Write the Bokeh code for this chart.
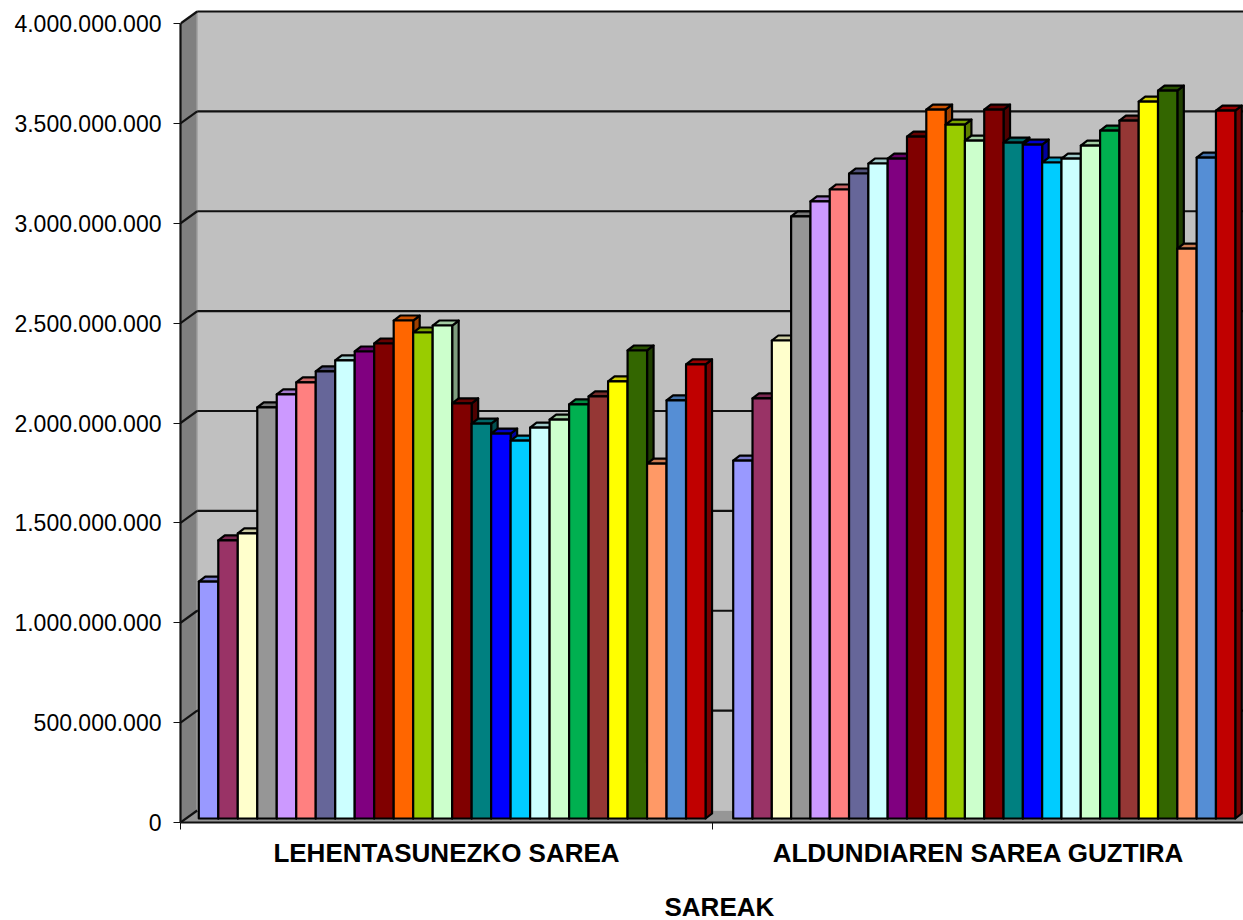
from bokeh.plotting import figure
from bokeh.models import Range1d, LinearAxis, FixedTicker, Title, ColumnDataSource
from bokeh.embed import file_html
from bokeh.resources import INLINE

categories = ["LEHENTASUNEZKO SAREA", "ALDUNDIAREN SAREA GUZTIRA"]
axis_title = "SAREAK"
y_ticks = [0, 500000000, 1000000000, 1500000000, 2000000000, 2500000000, 3000000000, 3500000000, 4000000000]
y_tick_labels = ["0", "500.000.000", "1.000.000.000", "1.500.000.000", "2.000.000.000",
                 "2.500.000.000", "3.000.000.000", "3.500.000.000", "4.000.000.000"]
priority_network = [1186, 1392, 1427, 2058, 2123, 2183, 2238, 2293, 2338, 2378, 2493, 2433, 2468,
                    2078, 1977, 1927, 1892, 1957, 1997, 2073, 2113, 2188, 2343, 1777, 2093, 2273]
total_network = [1792, 2103, 2393, 3014, 3089, 3149, 3229, 3279, 3304, 3414, 3549, 3474, 3394,
                 3549, 3384, 3374, 3284, 3304, 3369, 3444, 3494, 3589, 3644, 2853, 3309, 3544]
series_colors = ["#9999FF", "#993366", "#FFFFCC", "#969696", "#CC99FF", "#FF8080", "#666699", "#CCFFFF",
                 "#800080", "#800000", "#FF6600", "#99CC00", "#CCFFCC", "#800000", "#008080", "#0000FF",
                 "#00CCFF", "#CCFFFF", "#CCFFCC", "#00B050", "#953735", "#FFFF00", "#336600", "#FF9966",
                 "#558ED5", "#C00000"]

# layout: one x unit = one pixel, y in axis value units
VPP = 4e9 / 799
FRAME_W, FRAME_H = 1063, 822
WALL_DX, WALL_DY = 16.7, 12 * VPP
BAR_DX, BAR_DY = 6.5, 5 * VPP
BAR_BASE = 4 * VPP
GROUP_W = 532
GROUPS = [(priority_network, 18.3, 19.49), (total_network, 552.7, 19.31)]
Y_END = FRAME_H * VPP
WALL_TOP = 4e9


def shade(color, k):
    r, g, b = [int(color[i:i + 2], 16) for i in (1, 3, 5)]
    return "#%02X%02X%02X" % (int(r * k), int(g * k), int(b * k))


p = figure(frame_width=FRAME_W, frame_height=FRAME_H, output_backend="svg", toolbar_location=None,
           x_range=Range1d(0, FRAME_W), y_range=Range1d(0, Y_END),
           x_axis_type=None, y_axis_type=None,
           min_border_left=180, min_border_right=0, min_border_top=0, min_border_bottom=98,
           background_fill_color="white", border_fill_color="white", outline_line_color=None)
p.grid.visible = False

# walls and floor
p.patch([WALL_DX, FRAME_W, FRAME_W, WALL_DX], [WALL_DY, WALL_DY, WALL_TOP + WALL_DY, WALL_TOP + WALL_DY],
        fill_color="#C0C0C0", line_color=None)
p.patch([0, WALL_DX, WALL_DX, 0], [0, WALL_DY, WALL_TOP + WALL_DY, WALL_TOP],
        fill_color="#808080", line_color=None)
p.patch([0, WALL_DX, FRAME_W, FRAME_W], [0, WALL_DY, WALL_DY, 0],
        fill_color="#969696", line_color=None)
p.line([WALL_DX, WALL_DX], [WALL_DY, WALL_TOP + WALL_DY], line_color="#A6A6A6", line_width=1.5)

# gridlines on the back wall and their links across the side wall
gx, gy = [], []
for t in y_ticks:
    if t > 0:
        gx.append([WALL_DX, FRAME_W])
        gy.append([t + WALL_DY, t + WALL_DY])
    gx.append([0, WALL_DX])
    gy.append([t, t + WALL_DY])
p.multi_line(gx, gy, line_color="#111111", line_width=2.2)

# 3D bars, painted left to right
xs, ys, fills = [], [], []
for values, start, bw in GROUPS:
    for i, v in enumerate(values):
        c = series_colors[i]
        x0, x1 = start + i * bw, start + (i + 1) * bw
        top = v * 1e6 + BAR_BASE
        xs.append([x1, x1 + BAR_DX, x1 + BAR_DX, x1])
        ys.append([BAR_BASE, BAR_BASE + BAR_DY, top + BAR_DY, top])
        fills.append(shade(c, 0.62))
        xs.append([x0, x0 + BAR_DX, x1 + BAR_DX, x1])
        ys.append([top, top + BAR_DY, top + BAR_DY, top])
        fills.append(shade(c, 0.8))
        xs.append([x0, x1, x1, x0])
        ys.append([BAR_BASE, BAR_BASE, top, top])
        fills.append(c)
p.patches("xs", "ys", fill_color="fills", line_color="#000000", line_width=2.2, line_join="round",
          source=ColumnDataSource(dict(xs=xs, ys=ys, fills=fills)))

# axes
yaxis = LinearAxis(ticker=FixedTicker(ticks=y_ticks),
                   major_label_overrides=dict(zip(y_ticks, y_tick_labels)))
yaxis.bounds = (0, 4e9)
yaxis.axis_line_color = "#111111"
yaxis.axis_line_width = 2.2
yaxis.major_tick_line_color = "#111111"
yaxis.major_tick_line_width = 1
yaxis.major_tick_in = 0
yaxis.major_tick_out = 7
yaxis.major_label_standoff = 12
yaxis.major_label_text_font = "Liberation Sans"
yaxis.major_label_text_font_size = "23px"
yaxis.major_label_text_color = "black"
p.add_layout(yaxis, "left")

centers = [GROUP_W / 2, GROUP_W * 1.5]
xaxis = LinearAxis(ticker=FixedTicker(ticks=centers, minor_ticks=[0, GROUP_W]),
                   major_label_overrides=dict(zip(centers, categories)))
xaxis.axis_line_color = "#111111"
xaxis.axis_line_width = 2.2
xaxis.major_tick_line_color = None
xaxis.major_tick_in = 0
xaxis.major_tick_out = 0
xaxis.minor_tick_line_color = "#111111"
xaxis.minor_tick_line_width = 1
xaxis.minor_tick_in = 0
xaxis.minor_tick_out = 7
xaxis.major_label_standoff = 8
xaxis.major_label_text_font = "Liberation Sans"
xaxis.major_label_text_font_style = "bold"
xaxis.major_label_text_font_size = "26px"
xaxis.major_label_text_color = "black"
p.add_layout(xaxis, "below")

p.add_layout(Title(text=axis_title, align="left", offset=484, standoff=39,
                   text_font="Liberation Sans", text_font_style="bold", text_font_size="26px",
                   text_color="black"), "below")

open("out.html", "w").write(file_html(p, INLINE))
